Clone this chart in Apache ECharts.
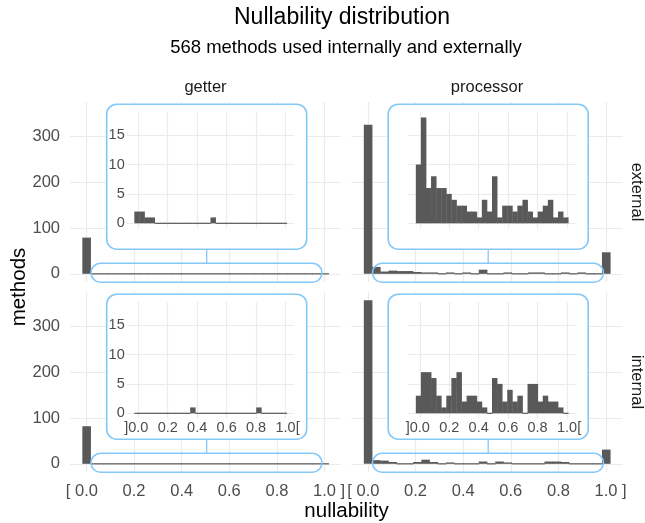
<!DOCTYPE html>
<html><head><meta charset="utf-8">
<script src="https://cdn.jsdelivr.net/npm/echarts@6/dist/echarts.min.js"></script>
<style>html,body{margin:0;padding:0;background:#fff}#c{width:645px;height:523px}</style>
</head><body><div id="c"></div>
<script>
// ---------------- data ----------------
const facetCols = ['getter', 'processor'];
const facetRows = ['external', 'internal'];

// main histograms: 30 bins centred on 0, 1/29, ..., 1
const getterExternalCounts    = [79,2,1,0,0,0,0,0,0,0,0,0,0,0,0,1,0,0,0,0,0,0,0,0,0,0,0,0,0,1];
const processorExternalCounts = [325,15,5,7,6,6,4,3,3,2,3,2,3,1,9,1,2,3,2,2,3,3,2,2,3,2,3,1,1,47];
const getterInternalCounts    = [82,0,0,0,0,0,0,0,0,0,0,1,0,0,0,0,0,0,0,0,0,0,0,0,1,0,0,0,0,0];
const processorInternalCounts = [357,8,7,4,2,1,4,9,4,1,3,1,1,0,5,2,5,3,2,2,2,1,5,5,4,1,1,1,0,31];

// inset histograms of values in ]0, 1[ : 30 bins
const getterExternalInset    = [2,2,1,1,0,0,0,0,0,0,0,0,0,0,0,1,0,0,0,0,0,0,0,0,0,0,0,0,0,0];
const processorExternalInset = [10,18,6,8,6,6,5,4,3,3,2,2,1,4,2,8,1,3,3,2,3,4,2,1,2,3,4,1,2,1];
const getterInternalInset    = [0,0,0,0,0,0,0,0,0,0,0,1,0,0,0,0,0,0,0,0,0,0,0,0,1,0,0,0,0,0];
const processorInternalInset = [3,7,7,6,3,1,3,6,7,2,3,3,2,1,0,6,5,2,4,2,3,0,5,5,2,3,2,2,1,0];

const mainXTicks  = [0, 0.2, 0.4, 0.6, 0.8, 1];
const mainYTicks  = [0, 100, 200, 300];
const insetXTicks = [0, 0.2, 0.4, 0.6, 0.8, 1];
const insetYTicks = [0, 5, 10, 15];

const mainBinWidth = 1 / 29;
const insetBinStart = -0.027;
const insetBinWidth = 1 / 29;

// ---------------- layout / style ----------------
const FONT = "'Liberation Sans', Arial, Helvetica, sans-serif";
const BLUE = '#84C8F8';
const GRID_COL = '#EBEBEB';
const BAR_COL = '#595959';
const MAIN = { left: [70, 351.5], top: [102, 292], width: 271, height: 180 };
const MAIN_X = [-0.069, 1.069], MAIN_Y = [-17.85, 374.85];
const INSET = { left: [126.7, 408.2], top: [112.2, 302.2], width: 167.5, height: 116.4 };
const INSET_X = [-0.0787, 1.0587], INSET_Y = [-0.9, 18.9];

const mainCounts = [[getterExternalCounts, processorExternalCounts], [getterInternalCounts, processorInternalCounts]];
const insetCounts = [[getterExternalInset, processorExternalInset], [getterInternalInset, processorInternalInset]];

function histRender(params, api) {
  const x0 = api.value(0), x1 = api.value(1), n = api.value(2);
  const pTop = api.coord([x0, n]);
  const pBot = api.coord([x1, 0]);
  let top = pTop[1], bottom = pBot[1];
  if (bottom - top < 1) { top = bottom - 0.6; bottom = bottom + 0.6; }
  return { type: 'rect', shape: { x: pTop[0], y: top, width: pBot[0] - pTop[0] + 0.4, height: bottom - top },
           style: { fill: BAR_COL } };
}

const NB = '\u00a0';
const mainFmt = v => v === 0 ? '[' + NB + '0.0' + NB + NB : (v === 1 ? NB + NB + '1.0' + NB + ']' : v.toFixed(1));
const insetFmt = v => v === 0 ? ']0.0' + NB : (v === 1 ? NB + '1.0[' : v.toFixed(1));

const grid = [], xAxis = [], yAxis = [], series = [], elements = [];
for (let r = 0; r < 2; r++) for (let c = 0; c < 2; c++) {
  const gi = r * 2 + c;
  grid[gi] = { left: MAIN.left[c], top: MAIN.top[r], width: MAIN.width, height: MAIN.height };
  grid[4 + gi] = { left: INSET.left[c], top: INSET.top[r], width: INSET.width, height: INSET.height };
  const split = { show: true, lineStyle: { color: GRID_COL, width: 1.2 } };
  xAxis[gi] = { gridIndex: gi, type: 'value', min: MAIN_X[0], max: MAIN_X[1], z: 0,
    axisLine: { show: false }, axisTick: { show: false, customValues: mainXTicks },
    axisLabel: { show: r === 1, customValues: mainXTicks, formatter: mainFmt, fontSize: 16.5, color: '#4D4D4D', fontFamily: FONT, margin: 11 },
    splitLine: split };
  yAxis[gi] = { gridIndex: gi, type: 'value', min: MAIN_Y[0], max: MAIN_Y[1], z: 0,
    axisLine: { show: false }, axisTick: { show: false, customValues: mainYTicks },
    axisLabel: { show: c === 0, customValues: mainYTicks, fontSize: 16.5, color: '#4D4D4D', fontFamily: FONT, margin: 10 },
    splitLine: split };
  xAxis[4 + gi] = { gridIndex: 4 + gi, type: 'value', min: INSET_X[0], max: INSET_X[1], z: 4,
    axisLine: { show: false }, axisTick: { show: false, customValues: insetXTicks },
    axisLabel: { show: r === 1, customValues: insetXTicks, formatter: insetFmt, fontSize: 14.5, color: '#4D4D4D', fontFamily: FONT, margin: 2 },
    splitLine: split };
  yAxis[4 + gi] = { gridIndex: 4 + gi, type: 'value', min: INSET_Y[0], max: INSET_Y[1], z: 4,
    axisLine: { show: false }, axisTick: { show: false, customValues: insetYTicks },
    axisLabel: { show: c === 0, customValues: insetYTicks, fontSize: 14.5, color: '#4D4D4D', fontFamily: FONT, margin: 2 },
    splitLine: split };

  series.push({ type: 'custom', xAxisIndex: gi, yAxisIndex: gi, z: 2, silent: true,
    encode: { x: [0, 1], y: 2 }, renderItem: histRender,
    data: mainCounts[r][c].map((n, i) => [i * mainBinWidth - mainBinWidth / 2, i * mainBinWidth + mainBinWidth / 2, n]) });
  series.push({ type: 'custom', xAxisIndex: 4 + gi, yAxisIndex: 4 + gi, z: 5, silent: true,
    encode: { x: [0, 1], y: 2 }, renderItem: histRender,
    data: insetCounts[r][c].map((n, i) => [insetBinStart + i * insetBinWidth, insetBinStart + (i + 1) * insetBinWidth, n]) });

  // magnifier decorations
  const boxL = INSET.left[c] - 20, boxT = INSET.top[r] - 8, boxW = 200, boxH = 145;
  const stL = MAIN.left[c] + 21, stT = MAIN.top[r] + 161.3, stW = 231, stH = 19;
  elements.push({ type: 'rect', z: 3, silent: true, shape: { x: stL, y: stT, width: stW, height: stH, r: stH / 2 },
    style: { fill: 'none', stroke: BLUE, lineWidth: 1.6 } });
  elements.push({ type: 'line', z: 3, silent: true, shape: { x1: boxL + boxW / 2, y1: boxT + boxH, x2: boxL + boxW / 2, y2: stT },
    style: { stroke: BLUE, lineWidth: 1.3 } });
  elements.push({ type: 'rect', z: 3, silent: true, shape: { x: boxL, y: boxT, width: boxW, height: boxH, r: 10 },
    style: { fill: '#fff', stroke: BLUE, lineWidth: 1.6 } });
}

function txt(s, x, y, size, color, rot) {
  return { type: 'text', x: x, y: y, rotation: rot || 0, z: 10, silent: true,
    style: { text: s, fontSize: size, fontFamily: FONT, fill: color, align: 'center', verticalAlign: 'middle' } };
}
elements.push(txt('Nullability distribution', 342, 18, 23, '#000'));
elements.push(txt('568 methods used internally and externally', 346, 48, 18.5, '#000'));
for (let c = 0; c < 2; c++) elements.push(txt(facetCols[c], MAIN.left[c] + MAIN.width / 2, 87, 16.5, '#1A1A1A'));
for (let r = 0; r < 2; r++) elements.push(txt(facetRows[r], 636.5, MAIN.top[r] + MAIN.height / 2, 16.5, '#1A1A1A', -Math.PI / 2));
elements.push(txt('methods', 19, 287, 20.5, '#000', Math.PI / 2));
elements.push(txt('nullability', 346.5, 511, 20.5, '#000'));

const chart = echarts.init(document.getElementById('c'), null, { renderer: 'canvas' });
chart.setOption({ animation: false, backgroundColor: '#fff', grid, xAxis, yAxis, series, graphic: { elements } });
</script></body></html>
